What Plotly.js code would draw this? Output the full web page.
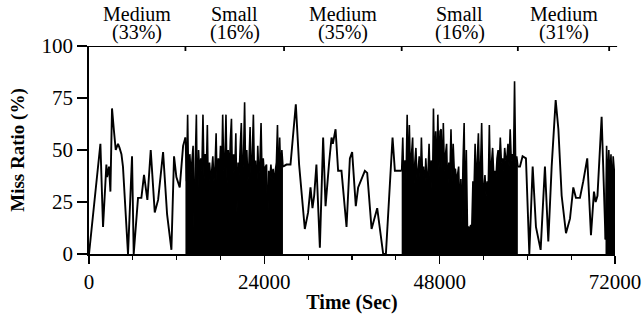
<!DOCTYPE html>
<html>
<head>
<meta charset="utf-8">
<script src="https://cdn.plot.ly/plotly-3.0.1.min.js"></script>
<style>html,body{margin:0;padding:0;background:#fff;}#chart{width:644px;height:322px;}</style>
</head>
<body>
<div id="chart"></div>
<script>
// Medium segment 1
var medium1Time = [0, 1560, 1920, 2380, 2470, 2740, 2930, 3150, 3420, 3660, 3970, 4180, 4440, 4650, 5340, 5890, 6120, 6710, 7170, 7530, 7990, 8450, 9000, 9460, 10140, 10690, 11280, 11640, 11960, 12420, 12880, 13200];
var medium1Miss = [0, 53, 13, 43, 37, 42, 30, 70, 59, 50, 53, 51, 48, 42, 0, 47, 0, 27, 27, 38, 26, 50, 20, 26, 49, 19, 2, 47, 37, 32, 52, 56];
// Small segment 1 (dense sampling)
var small1Start = 13200, small1Step = 150;
var small1Miss = [56,35,67,30,48,38,45,52,3,45,67,15,50,38,46,40,67,36,48,38,62,25,44,36,40,47,35,42,58,30,46,38,52,36,67,40,45,67,34,50,38,55,65,32,48,40,58,20,44,38,52,63,36,46,73,38,50,35,44,61,34,48,67,37,45,28,52,38,44,63,36,46,38,42,43,10,40,35,43,36,41,34,40,44,62,30,56,38,50,42];
// Medium segment 2
var medium2Time = [26550, 27030, 27580, 28310, 28760, 29540, 29990, 30320, 30590, 30820, 31130, 31600, 32050, 32380, 32870, 33200, 33380, 33750, 34100, 34560, 35250, 35710, 36020, 36520, 36840, 37760, 38080, 38680, 39450, 40270, 40640, 41550, 41870, 42800];
var medium2Miss = [42, 43, 43, 72, 43, 12, 20, 32, 22, 28, 43, 3, 56, 23, 44, 56, 53, 60, 40, 40, 13, 46, 49, 23, 32, 40, 39, 12, 22, 0, 0, 56, 40, 40];
// Small segment 2 (dense sampling)
var small2Start = 42800, small2Step = 150;
var small2Miss = [40,56,32,45,36,67,34,62,38,48,56,30,44,51,36,40,47,33,56,38,42,30,46,36,38,53,34,45,25,70,38,59,35,67,40,59,60,36,63,40,48,53,30,44,38,60,35,53,40,41,36,38,42,20,36,15,45,63,14,50,13,13,12,14,13,35,30,53,32,45,58,36,42,63,34,30,38,28,35,32,62,34,44,51,38,40,36,46,50,42,56,44,46,40,51,45,46,53,42,60,45,48,42,83,44,47,42];
// Medium segment 3
var medium3Time = [58700, 58990, 59350, 59810, 60270, 60730, 61180, 61820, 62410, 62870, 63330, 63880, 64250, 64700, 65290, 65840, 66290, 66650, 67200, 67660, 68200, 68710, 69120, 69350, 69600, 70170, 70700];
var medium3Miss = [42, 42, 47, 46, 0, 42, 13, 2, 42, 6, 42, 74, 60, 28, 10, 17, 32, 27, 27, 35, 46, 9, 30, 25, 28, 66, 7];
// Small segment 3 (dense sampling, at the end)
var small3Start = 70700, small3Step = 150;
var small3Miss = [7, 52, 30, 50, 35, 48, 30, 47, 40, 0];

// Top segment labels
var segmentBounds = [13200, 26700, 42800, 58700, 71200];
var segmentCenters = [6600, 19950, 34750, 50750, 64950];
var segmentNames = ["Medium", "Small", "Medium", "Small", "Medium"];
var segmentRatios = ["(33%)", "(16%)", "(35%)", "(16%)", "(31%)"];

var xTickVals = [0, 24000, 48000, 72000];
var yTickVals = [0, 25, 50, 75, 100];

var lineStyle = {color: "#000", width: 1.9, simplify: false};
var denseStyle = {color: "#000", width: 1.6, simplify: false};
function dense(x0, dx, y) {
  return {type: "scatter", mode: "lines", x0: x0, dx: dx, y: y, line: denseStyle, fill: "tozeroy", fillcolor: "#000", cliponaxis: false};
}
var traces = [
  {type: "scatter", mode: "lines", x: medium1Time, y: medium1Miss, line: lineStyle, cliponaxis: false},
  dense(small1Start, small1Step, small1Miss),
  {type: "scatter", mode: "lines", x: medium2Time, y: medium2Miss, line: lineStyle, cliponaxis: false},
  dense(small2Start, small2Step, small2Miss),
  {type: "scatter", mode: "lines", x: medium3Time, y: medium3Miss, line: lineStyle, cliponaxis: false},
  dense(small3Start, small3Step, small3Miss)
];

var serif = "'Liberation Serif', 'Times New Roman', serif";
var shapes = [
  {type: "line", xref: "paper", yref: "y", x0: 0, x1: 1.004, y0: 100, y1: 100, line: {color: "#000", width: 1.8}},
  {type: "line", xref: "x", yref: "y", ysizemode: "pixel", yanchor: 100, x0: 0, x1: 0, y0: 0, y1: 33, line: {color: "#000", width: 1.8}}
];
segmentBounds.forEach(function (b) {
  shapes.push({type: "line", xref: "x", yref: "y", ysizemode: "pixel", yanchor: 100, x0: b, x1: b, y0: -5, y1: 5, line: {color: "#000", width: 1.8}});
});
var annotations = [];
segmentCenters.forEach(function (c, i) {
  annotations.push({xref: "x", yref: "paper", x: c, y: 1.155, text: segmentNames[i], showarrow: false, xanchor: "center", yanchor: "middle", font: {family: serif, size: 20, color: "#000"}});
  annotations.push({xref: "x", yref: "paper", x: c, y: 1.065, text: segmentRatios[i], showarrow: false, xanchor: "center", yanchor: "middle", font: {family: serif, size: 20, color: "#000"}});
});

var layout = {
  width: 644, height: 322,
  margin: {l: 89, r: 29, t: 46, b: 68},
  paper_bgcolor: "#fff", plot_bgcolor: "#fff",
  showlegend: false,
  font: {family: serif, size: 21, color: "#000"},
  xaxis: {
    range: [0, 72000], tickvals: xTickVals, ticktext: xTickVals.map(String),
    showgrid: false, zeroline: false, showline: true, linecolor: "#000", linewidth: 1.8,
    ticks: "outside", ticklen: 8, tickwidth: 1.5, tickcolor: "#000",
    minor: {dtick: 6000, ticks: "outside", ticklen: 4, tickwidth: 1.2, tickcolor: "#000", showgrid: false},
    tickfont: {family: serif, size: 21},
    title: {text: "<b>Time (Sec)</b>", font: {family: serif, size: 20}, standoff: 2}
  },
  yaxis: {
    range: [0, 100], tickvals: yTickVals, ticktext: yTickVals.map(String),
    showgrid: false, zeroline: false, showline: true, linecolor: "#000", linewidth: 1.8,
    ticks: "outside", ticklen: 10, tickwidth: 1.5, tickcolor: "#000",
    tickfont: {family: serif, size: 21},
    title: {text: "<b>Miss Ratio (%)</b>", font: {family: serif, size: 19}, standoff: 12}
  },
  shapes: shapes,
  annotations: annotations
};

Plotly.newPlot("chart", traces, layout, {staticPlot: true, displayModeBar: false});
</script>
</body>
</html>
